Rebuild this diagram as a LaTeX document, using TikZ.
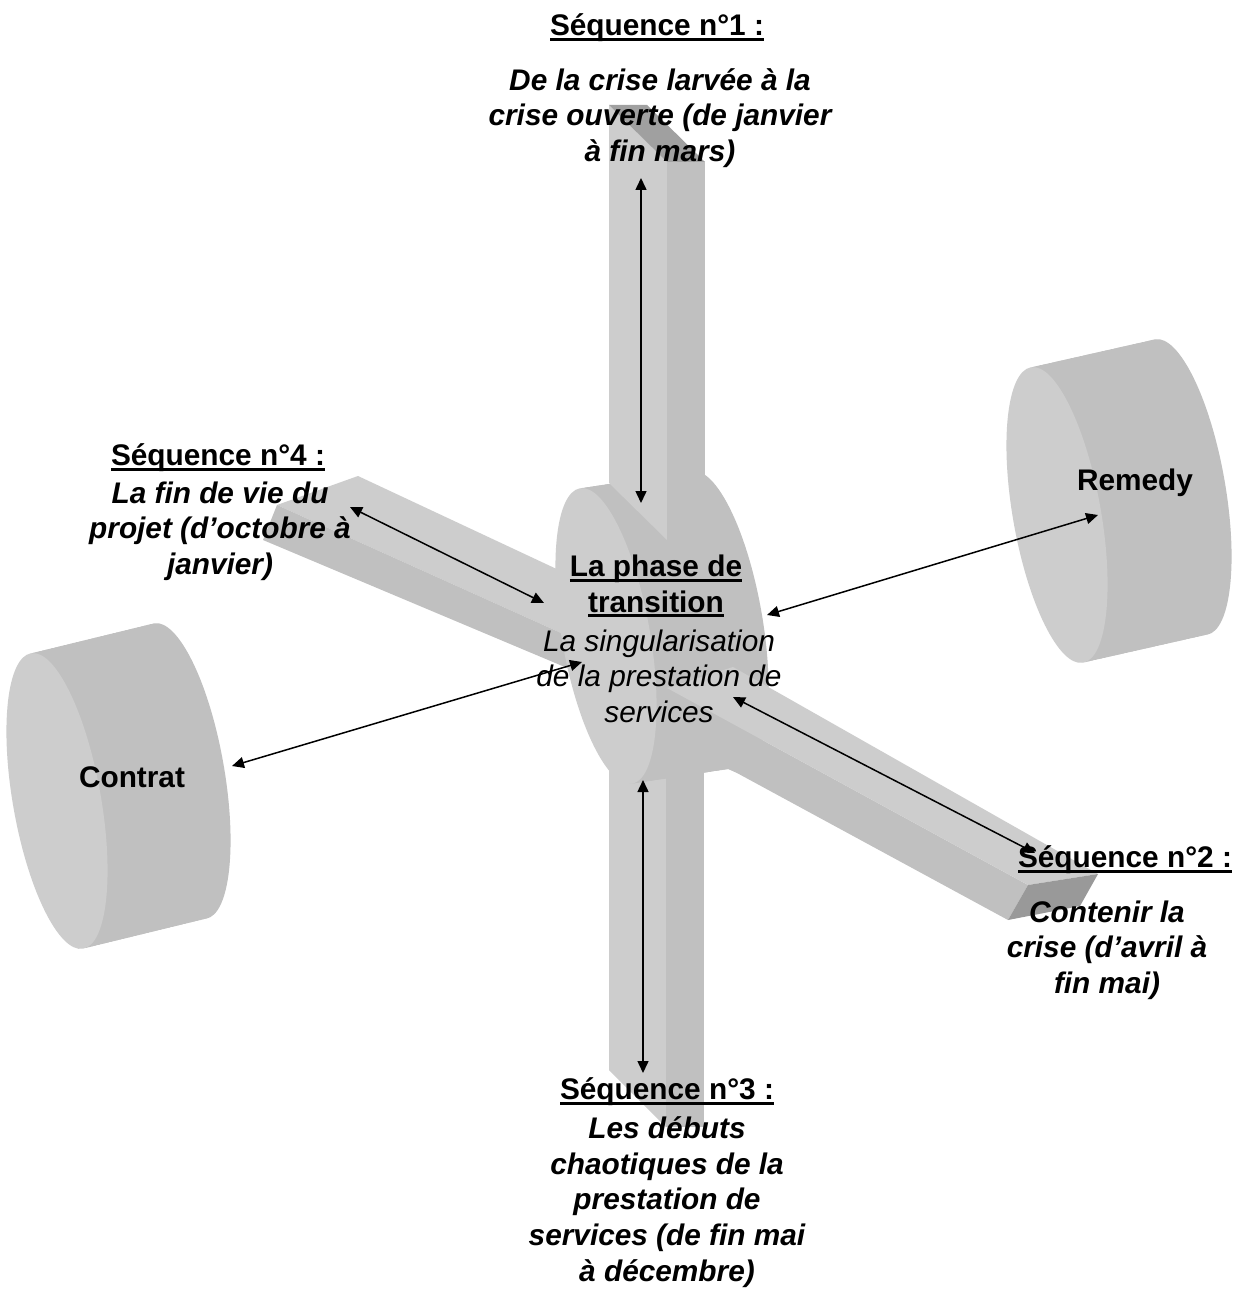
\documentclass[tikz,border=0pt]{standalone}
\usepackage{fontspec}
\setmainfont{Liberation Sans}
\usetikzlibrary{arrows.meta,calc}

\definecolor{facelight}{RGB}{205,205,205}
\definecolor{faceside}{RGB}{192,192,192}
\definecolor{facecap}{RGB}{160,160,160}
\definecolor{facedark}{RGB}{153,153,153}

% underlined heading line
\newcommand\seqline[1]{\leavevmode\setbox0\hbox{#1}\rlap{\vrule width\wd0 height -1.1pt depth 2.6pt}\box0}

% a drum: swept side, then the lighter front disc
\newcommand\drum[4]{%
  \foreach \k in {40,39,...,1}{%
    \pgfmathsetmacro\X{#1+\k*#3/40}%
    \pgfmathsetmacro\Y{#2+\k*#4/40}%
    \fill[faceside, rotate around={10:(\X,\Y)}] (\X,\Y) ellipse [x radius=44, y radius=150];
  }%
  \fill[facelight, rotate around={10:(#1,#2)}] (#1,#2) ellipse [x radius=44, y radius=150];
}

\begin{document}
\begin{tikzpicture}[x=0.5pt,y=-0.5pt,
  txt/.style={font=\fontsize{14.9}{17.8}\selectfont, align=center, inner sep=0pt},
  heading/.style={txt, font=\fontsize{14.9}{17.8}\selectfont\bfseries},
  body/.style={txt, font=\fontsize{14.9}{17.8}\selectfont\bfseries\itshape},
  plain/.style={txt, font=\fontsize{14.9}{17.8}\selectfont\itshape},
  link/.style={{Triangle[length=6pt,width=5.5pt]}-{Triangle[length=6pt,width=5.5pt]}, line width=0.75pt, black}]

\useasboundingbox (0,0) rectangle (1248,1299);
\fill[white] (0,0) rectangle (1248,1299);

% outer drums
\drum{57}{801}{123}{-30}
\drum{1057}{515}{124}{-28}

% bar towards sequence 4 (behind the hub)
\fill[facelight] (358,476) -- (610,594) -- (610,655) -- (277,505) -- cycle;
\fill[faceside] (277,505) -- (610,655) -- (610,686) -- (263,540) -- cycle;

% bar towards sequence 3 (behind the hub)
\fill[facelight] (609,700) -- (666,700) -- (666,1127) -- (609,1070) -- cycle;
\fill[faceside] (666,700) -- (704,700) -- (704,1127) -- (666,1127) -- cycle;

% central hub
\drum{606}{636}{112}{-17}

% bar towards sequence 2
\fill[faceside] (667,688) -- (1028,885) -- (1008,920) -- (737,773) -- (690,752) -- cycle;
\fill[facelight] (733,667) -- (1098,874) -- (1028,885) -- (667,688) -- cycle;
\fill[facedark] (1028,885) -- (1098,874) -- (1080,906) -- (1008,920) -- cycle;

% bar towards sequence 1
\fill[facelight] (609,105) -- (667,162) -- (667,540) -- (609,483) -- cycle;
\fill[faceside] (667,162) -- (705,162) -- (705,540) -- (667,540) -- cycle;
\fill[facecap] (609,105) -- (647,105) -- (705,162) -- (667,162) -- cycle;

% connector end points
\coordinate (s1a) at (641,178);  \coordinate (s1b) at (641,503);
\coordinate (s3a) at (643,780);  \coordinate (s3b) at (643,1073);
\coordinate (s2a) at (733,697);  \coordinate (s2b) at (1035,853);
\coordinate (s4a) at (350,507);  \coordinate (s4b) at (544,603);
\coordinate (ca) at (232,766);   \coordinate (cb) at (582,662);
\coordinate (ra) at (767,615);   \coordinate (rb) at (1098,515);

\draw[link] (s1a) -- (s1b);
\draw[link] (s3a) -- (s3b);
\draw[link] (s2a) -- (s2b);
\draw[link] (s4a) -- (s4b);
\draw[link] (ca) -- (cb);
\draw[link] (ra) -- (rb);

% labels
\node[heading] (h1) at (657,28) {\seqline{Séquence n°1 :}};
\node[body] (b1) at (660,118) {De la crise larvée à la\\crise ouverte (de janvier\\à fin mars)};

\node[heading] (h4) at (218,458) {\seqline{Séquence n°4 :}};
\node[body] (b4) at (220,531) {La fin de vie du\\projet (d’octobre à\\janvier)};

\node[heading] (hc) at (656,586) {\seqline{La phase de}\\\seqline{transition}};
\node[plain] (bc) at (659,676) {La singularisation\\de la prestation de\\services};

\node[heading] (h2) at (1125,860) {\seqline{Séquence n°2 :}};
\node[body] (b2) at (1107,950) {Contenir la\\crise (d’avril à\\fin mai)};

\node[heading] (h3) at (667,1092) {\seqline{Séquence n°3 :}};
\node[body] (b3) at (667,1202) {Les débuts\\chaotiques de la\\prestation de\\services (de fin mai\\à décembre)};

\node[heading] (contrat) at (132,777) {Contrat};
\node[heading] (remedy) at (1135,483) {Remedy};

\end{tikzpicture}
\end{document}
